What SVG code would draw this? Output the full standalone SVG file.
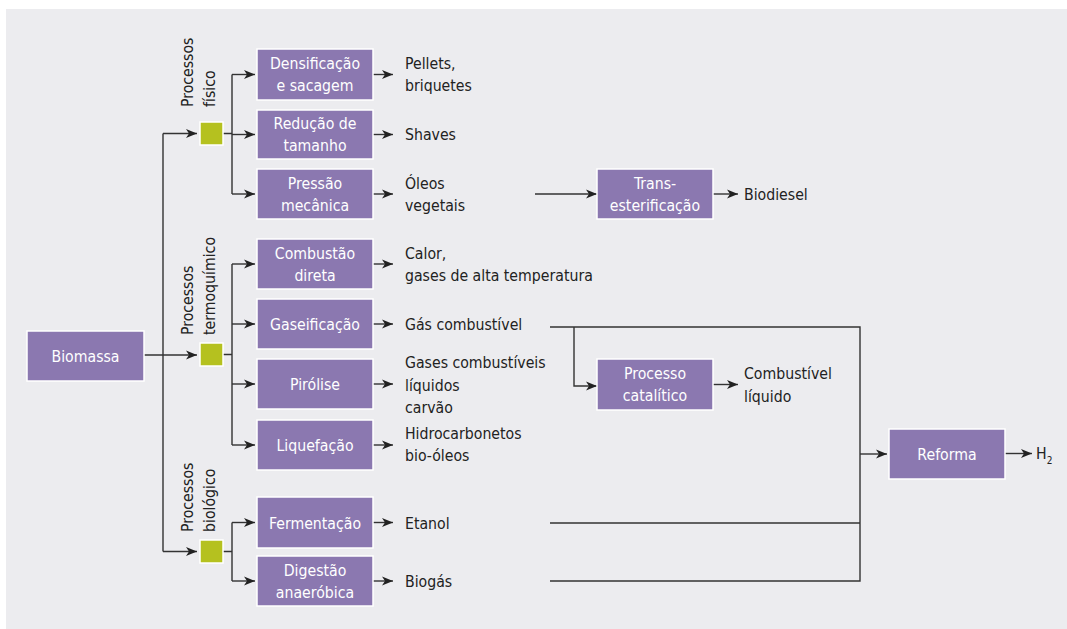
<svg xmlns="http://www.w3.org/2000/svg" width="1067" height="629" viewBox="0 0 1067 629">
<style>
.bg{fill:#ececef}
.box{fill:#8b78b0;stroke:#ffffff;stroke-width:1.5}
.sq{fill:#b5c11f;stroke:#ffffff;stroke-width:1.5}
.bt{font-family:"Liberation Sans Narrow","DejaVu Sans Condensed","Roboto",sans-serif;font-size:15.7px;fill:#ffffff;text-anchor:middle}
.ot{font-family:"Liberation Sans Narrow","DejaVu Sans Condensed","Roboto",sans-serif;font-size:15.7px;fill:#222222}
.lb{font-family:"Liberation Sans Narrow","DejaVu Sans Condensed","Roboto",sans-serif;font-size:15.7px;fill:#222222}
.ln{fill:none;stroke:#333333;stroke-width:1.4}
.ar{fill:none;stroke:#333333;stroke-width:1.4;marker-end:url(#ah)}
</style>
<defs>
<marker id="ah" markerUnits="userSpaceOnUse" markerWidth="12" markerHeight="10" refX="11" refY="5" orient="auto">
<path d="M0,0.5 L11,5 L0,9.5 L3,5 Z" fill="#222222"/>
</marker>
</defs>
<rect class="bg" x="6" y="9" width="1061" height="620"/>

<g id="connectors">
<path class="ar" d="M144,355 H197"/>
<path class="ln" d="M163,133.5 V551.5"/>
<path class="ar" d="M163,133.5 H197"/>
<path class="ar" d="M163,551.5 H197"/>
<path class="ln" d="M223,133.5 H232 M232,74.5 V194"/>
<path class="ar" d="M232,74.5 H255"/>
<path class="ar" d="M232,134.5 H255"/>
<path class="ar" d="M232,194 H255"/>
<path class="ln" d="M223,354.5 H232 M232,264 V445"/>
<path class="ar" d="M232,264 H255"/>
<path class="ar" d="M232,324 H255"/>
<path class="ar" d="M232,384 H255"/>
<path class="ar" d="M232,445 H255"/>
<path class="ln" d="M223,551.5 H232 M232,522.5 V581"/>
<path class="ar" d="M232,522.5 H255"/>
<path class="ar" d="M232,581 H255"/>
<path class="ar" d="M373,74.5 H393"/>
<path class="ar" d="M373,134.5 H393"/>
<path class="ar" d="M373,194 H393"/>
<path class="ar" d="M373,264 H393"/>
<path class="ar" d="M373,324 H393"/>
<path class="ar" d="M373,384 H393"/>
<path class="ar" d="M373,445 H393"/>
<path class="ar" d="M373,522.5 H393"/>
<path class="ar" d="M373,581 H393"/>
<path class="ar" d="M535,194 H597"/>
<path class="ar" d="M713,194 H738"/>
<path class="ln" d="M550,327 H860 V581 H550 M550,523 H860"/>
<path class="ar" d="M574,327 V386 H597"/>
<path class="ar" d="M713,384.5 H738"/>
<path class="ar" d="M860,454 H887"/>
<path class="ar" d="M1005,453.5 H1032"/>
</g>

<g id="biomassa"><rect class="box" x="27" y="331" width="117" height="50"/><text class="bt" x="85.5" y="361.5">Biomassa</text></g>

<g id="fisico"><rect class="sq" x="200" y="122" width="23" height="23"/>
<text class="lb" transform="translate(192.5,107) rotate(-90)">Processos</text>
<text class="lb" transform="translate(215,107) rotate(-90)">físico</text></g>
<g id="termoquimico"><rect class="sq" x="200" y="343" width="23" height="23"/>
<text class="lb" transform="translate(192.5,335) rotate(-90)">Processos</text>
<text class="lb" transform="translate(215,335) rotate(-90)">termoquímico</text></g>
<g id="biologico"><rect class="sq" x="200" y="540" width="23" height="23"/>
<text class="lb" transform="translate(192.5,532) rotate(-90)">Processos</text>
<text class="lb" transform="translate(215,532) rotate(-90)">biológico</text></g>

<g id="densificacao"><rect class="box" x="257" y="49" width="116" height="51"/><text class="bt" x="315" y="68.5">Densificação</text><text class="bt" x="315" y="91">e sacagem</text></g>
<g id="reducao"><rect class="box" x="257" y="110" width="116" height="49"/><text class="bt" x="315" y="128.5">Redução de</text><text class="bt" x="315" y="150.5">tamanho</text></g>
<g id="pressao"><rect class="box" x="257" y="169" width="116" height="50"/><text class="bt" x="315" y="188.5">Pressão</text><text class="bt" x="315" y="210.5">mecânica</text></g>
<g id="combustao"><rect class="box" x="257" y="239" width="116" height="50"/><text class="bt" x="315" y="258.5">Combustão</text><text class="bt" x="315" y="280.5">direta</text></g>
<g id="gaseificacao"><rect class="box" x="257" y="299" width="116" height="50"/><text class="bt" x="315" y="330">Gaseificação</text></g>
<g id="pirolise"><rect class="box" x="257" y="359" width="116" height="50"/><text class="bt" x="315" y="390">Pirólise</text></g>
<g id="liquefacao"><rect class="box" x="257" y="420" width="116" height="50"/><text class="bt" x="315" y="451">Liquefação</text></g>
<g id="fermentacao"><rect class="box" x="257" y="497" width="116" height="51"/><text class="bt" x="315" y="528.5">Fermentação</text></g>
<g id="digestao"><rect class="box" x="257" y="556" width="116" height="50"/><text class="bt" x="315" y="575.5">Digestão</text><text class="bt" x="315" y="597.5">anaeróbica</text></g>

<g id="transesterificacao"><rect class="box" x="597" y="169" width="116" height="50"/><text class="bt" x="655" y="188.5">Trans-</text><text class="bt" x="655" y="210.5">esterificação</text></g>
<g id="catalitico"><rect class="box" x="597" y="359" width="116" height="51"/><text class="bt" x="655" y="378.5">Processo</text><text class="bt" x="655" y="400.5">catalítico</text></g>
<g id="reforma"><rect class="box" x="889" y="429" width="116" height="50"/><text class="bt" x="947" y="459.5">Reforma</text></g>

<g id="outputs">
<text class="ot" x="405" y="68.5">Pellets,</text><text class="ot" x="405" y="90.5">briquetes</text>
<text class="ot" x="405" y="139.5">Shaves</text>
<text class="ot" x="405" y="188.5">Óleos</text><text class="ot" x="405" y="210.5">vegetais</text>
<text class="ot" x="744" y="199.5">Biodiesel</text>
<text class="ot" x="405" y="258.5">Calor,</text><text class="ot" x="405" y="280.5">gases de alta temperatura</text>
<text class="ot" x="405" y="330">Gás combustível</text>
<text class="ot" x="405" y="368">Gases combustíveis</text><text class="ot" x="405" y="390.5">líquidos</text><text class="ot" x="405" y="413">carvão</text>
<text class="ot" x="744" y="379">Combustível</text><text class="ot" x="744" y="401.5">líquido</text>
<text class="ot" x="405" y="438.5">Hidrocarbonetos</text><text class="ot" x="405" y="461">bio-óleos</text>
<text class="ot" x="405" y="528.5">Etanol</text>
<text class="ot" x="405" y="587">Biogás</text>
<text class="ot" x="1036" y="459" font-size="17">H<tspan font-size="10" dy="5">2</tspan></text>
</g>
</svg>
